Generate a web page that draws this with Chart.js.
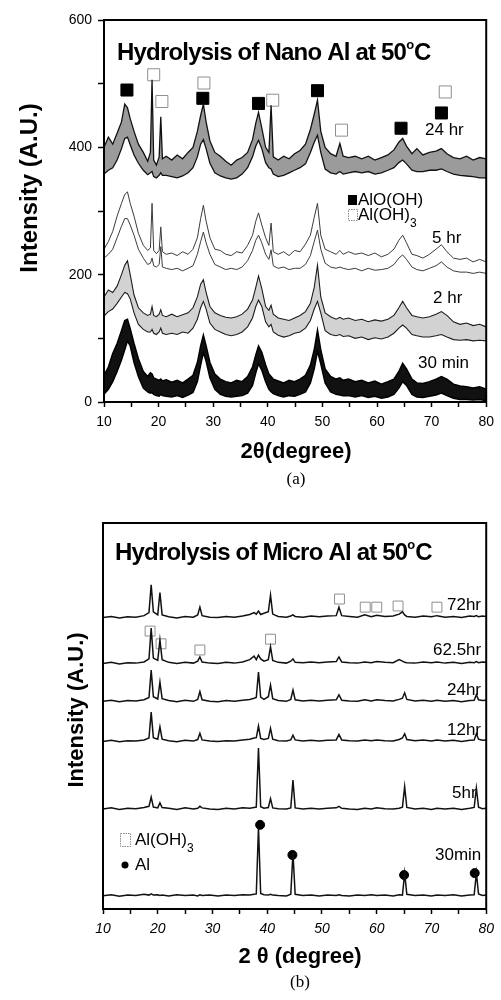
<!DOCTYPE html>
<html>
<head>
<meta charset="utf-8">
<script src="https://cdn.jsdelivr.net/npm/chart.js@4.4.1/dist/chart.umd.min.js"></script>
<style>
  html, body { margin: 0; padding: 0; background: #fff; }
  #wrap { position: relative; width: 501px; height: 1000px; }
  canvas { position: absolute; left: 0; }
  #nano { top: 0; }
  #micro { top: 500px; }
</style>
</head>
<body>
<div id="wrap">
  <canvas id="nano" width="501" height="500"></canvas>
  <canvas id="micro" width="501" height="500"></canvas>
</div>
<script>
// (a) nano Al - 2theta grid shared by all traces, each trace is a band (top / bottom edge)
const nanoTheta = [10,10.8,11.6,12.4,13.2,13.8,14.3,14.8,15.5,16.3,
  17.2,18.0,18.5,18.8,19.1,19.6,20.1,20.4,20.7,21.4,
  22.4,23.4,24.4,25.4,26.3,27.1,27.7,28.2,28.7,29.4,
  30.3,31.3,32.3,33.3,34.3,35.3,36.3,37.2,37.8,38.3,
  38.9,39.6,40.2,40.6,41.0,41.9,42.9,43.9,44.9,45.9,
  46.9,47.8,48.5,49.1,49.7,50.5,51.5,52.5,53.2,53.8,
  54.8,56.0,57.2,58.4,59.6,60.8,62.0,63.1,64.0,64.7,
  65.4,66.4,67.3,68.4,69.6,70.8,71.8,72.8,74.0,75.2,
  76.4,77.6,78.8,80];

const nano24Top = [400,416,405,422,440,468,462,445,425,405,
  392,378,392,506,380,372,385,448,382,386,
  380,388,382,392,400,425,450,468,440,410,
  392,386,378,372,380,384,392,412,438,455,
  430,400,392,466,385,380,386,382,390,395,
  405,428,452,474,425,400,390,386,406,386,
  384,386,382,386,380,384,388,396,408,414,
  402,390,398,388,392,394,398,390,384,382,
  386,380,384,382];
const nano24Bottom = [358,364,368,380,398,414,416,404,388,375,
  364,357,360,362,354,352,356,360,356,356,
  354,352,355,360,368,385,405,412,398,375,
  360,355,352,350,352,358,368,385,402,411,
  398,376,368,366,358,354,356,360,364,368,
  374,392,408,419,392,366,360,358,362,358,
  360,362,360,362,358,360,364,368,376,380,
  374,364,362,362,364,364,366,362,358,356,
  355,354,352,352];

const nano5Top = [240,252,268,292,312,326,330,312,292,265,
  246,238,242,312,238,233,238,275,236,232,
  234,230,236,232,240,258,288,309,284,258,
  240,238,232,230,236,234,246,262,284,297,
  278,258,246,281,236,232,236,230,238,236,
  248,262,290,312,262,240,236,232,238,232,
  236,232,234,230,234,228,232,240,254,262,
  250,232,230,226,232,240,247,236,226,224,
  226,220,224,220];
const nano5Bottom = [226,232,240,258,276,288,288,278,262,240,
  226,216,218,226,214,212,216,244,212,210,
  208,210,206,210,214,232,252,267,250,232,
  216,212,208,210,208,212,222,238,254,262,
  250,232,224,239,214,210,212,208,210,210,
  216,230,252,270,240,218,212,210,212,210,
  208,210,206,210,207,208,210,216,226,231,
  224,212,208,206,210,214,220,212,206,204,
  204,202,204,202];

const nano2Top = [165,176,172,182,200,215,222,200,168,148,
  140,136,138,150,136,134,138,145,136,134,
  138,134,137,140,148,165,185,192,172,150,
  140,136,133,132,134,138,146,160,180,198,
  178,150,144,152,138,132,130,128,132,136,
  142,155,180,215,165,140,134,130,133,130,
  132,128,130,126,129,127,130,136,148,158,
  148,136,134,132,134,138,142,136,126,122,
  124,120,122,118];
const nano2Bottom = [135,142,146,155,165,172,170,162,140,122,
  114,110,110,114,108,106,110,116,108,106,
  108,106,110,108,116,130,148,158,146,124,
  114,110,106,104,106,110,118,132,150,160,
  150,126,118,122,110,105,102,104,108,110,
  116,128,146,158,140,112,106,104,106,103,
  104,100,102,98,101,99,102,108,116,121,
  116,106,104,102,102,104,106,102,98,97,
  98,96,97,96];

const nano30Top = [42,55,76,92,112,128,130,115,92,68,
  48,40,46,44,38,36,34,36,33,35,
  31,34,30,36,42,62,88,105,88,62,
  44,36,32,30,34,32,40,55,74,88,
  78,58,44,40,36,33,30,34,32,36,
  42,58,82,113,82,52,40,36,38,34,
  36,32,34,30,33,28,32,36,48,61,
  52,36,30,29,32,36,40,36,28,25,
  24,22,24,20];
const nano30Bottom = [12,20,32,48,66,82,96,88,62,40,
  22,16,14,15,12,10,9,12,10,9,
  8,10,7,11,15,32,58,78,64,38,
  20,12,9,8,9,10,14,26,46,60,
  50,32,20,16,13,10,8,10,9,12,
  16,30,52,80,60,30,16,12,11,10,
  10,8,10,7,9,6,8,12,22,32,
  26,12,8,7,9,11,14,10,6,4,
  4,3,4,2];

const aloohX = [14.2, 28.1, 38.3, 49.1, 64.4, 71.8];
const aloohY = [490, 477, 469, 489, 430, 454];
const nanoGibbsX = [19.1, 20.6, 28.3, 40.9, 53.5, 72.5];
const nanoGibbsY = [514, 472, 501, 474, 427, 487];

const nanoYTicks = [0, 200, 400, 600];
const xTicks = [10, 20, 30, 40, 50, 60, 70, 80];

// (b) micro Al
const microTheta = [10,11.5,13,14.5,16,17.5,18.4,18.8,19.2,20.0,
  20.4,20.8,22,23.5,25,26.5,27.3,27.7,28.1,29.5,
  31,32.5,34,35.5,36.8,37.6,38.0,38.4,38.8,39.4,
  40.2,40.6,41.0,42,43.5,44.3,44.7,45.1,46.5,48,
  49.5,51,52.6,53.1,53.6,55,56.5,57.8,59,60,
  61.5,63,64.1,64.7,65.1,65.5,67,68.5,70,71,
  72.5,74,75.5,77,77.8,78.2,78.6,79.3,80];

const micro72 = [75.5,75.8,75.4,75.7,75.6,76.0,76.8,84.0,77.0,76.2,
  82.0,76.2,75.7,75.4,75.8,75.6,76.2,78.2,76.0,75.6,
  75.5,75.8,75.6,75.9,76.3,76.8,76.4,77.2,76.3,76.6,
  77.0,81.3,76.4,75.8,75.6,75.9,76.2,75.8,75.6,75.9,
  75.7,75.9,76.0,78.2,76.0,75.8,75.6,76.2,75.7,76.1,
  75.8,75.9,76.4,77.0,76.2,75.8,75.6,75.9,75.7,76.0,
  75.6,75.8,75.5,75.9,75.8,76.0,75.7,75.9,75.8];
const micro62 = [63.6,63.9,63.5,63.8,63.7,64.0,64.8,72.8,65.0,64.4,
  69.7,64.6,63.9,63.6,63.9,63.7,64.2,65.3,64.0,63.7,
  63.6,63.9,63.7,64.0,64.6,65.5,64.6,65.8,64.8,64.2,
  64.6,67.9,64.4,63.9,63.7,64.2,64.8,63.9,63.8,64.0,
  63.8,64.0,64.1,65.3,64.0,63.8,63.7,64.0,63.8,64.1,
  63.9,63.8,64.6,64.2,63.9,63.8,63.7,64.0,63.8,64.0,
  63.7,63.9,63.6,63.9,63.8,64.1,63.8,64.0,63.9];
const micro24 = [53.8,54.1,53.7,54.0,53.9,54.2,54.8,61.9,55.0,54.4,
  58.8,54.5,54.0,53.7,54.1,53.8,54.3,56.3,54.2,53.8,
  53.7,54.0,53.8,54.1,54.3,54.6,54.8,61.4,54.9,54.3,
  55.0,58.0,54.5,54.0,53.8,54.3,56.7,54.2,53.9,54.1,
  53.9,54.1,54.2,55.5,54.1,53.9,53.8,54.2,53.9,54.2,
  54.0,53.9,54.3,54.6,56.0,54.3,53.9,54.1,53.8,54.1,
  53.8,54.0,53.7,54.0,54.1,55.5,54.2,54.0,54.1];
const micro12 = [43.4,43.7,43.3,43.6,43.5,43.8,44.3,51.0,44.4,44.0,
  47.2,44.0,43.6,43.3,43.7,43.5,43.9,45.5,43.8,43.5,
  43.4,43.6,43.5,43.8,44.0,44.3,44.4,47.4,44.2,43.9,
  44.2,46.8,44.0,43.6,43.5,43.8,45.0,43.8,43.5,43.7,
  43.5,43.7,43.8,45.2,43.8,43.6,43.5,43.8,43.6,43.8,
  43.6,43.5,43.9,44.3,45.4,43.9,43.6,43.8,43.5,43.8,
  43.5,43.7,43.4,43.7,43.8,45.4,44.0,43.7,43.8];
const micro5 = [25.9,26.2,25.8,26.1,26.0,26.3,26.6,29.0,26.4,26.2,
  27.5,26.3,26.1,25.8,26.2,25.9,26.1,26.6,26.2,25.9,
  25.8,26.1,25.9,26.2,26.1,26.3,26.4,41.7,26.5,26.1,
  26.3,28.6,26.2,26.0,25.9,26.2,33.4,26.2,25.9,26.1,
  25.9,26.1,26.2,26.6,26.1,25.9,25.8,26.1,25.9,26.2,
  26.0,25.9,26.1,26.4,31.7,26.3,25.9,26.1,25.8,26.1,
  25.9,26.1,25.8,26.1,26.3,31.3,26.4,26.0,26.1];
const micro30 = [3.4,3.7,3.3,3.6,3.5,3.8,3.6,3.9,3.6,3.7,
  3.5,3.6,3.4,3.7,3.5,3.6,3.4,3.7,3.5,3.6,
  3.4,3.6,3.5,3.7,3.6,3.8,3.9,21.2,4.0,3.7,
  3.6,3.8,3.6,3.5,3.4,3.8,14.5,3.8,3.5,3.6,
  3.4,3.6,3.5,3.7,3.5,3.4,3.6,3.5,3.7,3.5,
  3.6,3.4,3.7,3.6,9.3,3.8,3.5,3.6,3.4,3.6,
  3.5,3.7,3.4,3.6,3.7,9.3,3.9,3.5,3.6];

const microGibbsX = [53.2, 57.9, 60.0, 63.9, 71.0, 18.6, 20.6, 27.7, 40.6];
const microGibbsY = [80.3, 78.2, 78.2, 78.5, 78.2, 72.0, 68.7, 67.1, 69.9];
const alX = [38.7, 44.6, 65.0, 77.9];
const alY = [21.8, 14.0, 8.8, 9.3];

const SANS = '"Liberation Sans", Arial, sans-serif';
const SERIF = '"Liberation Serif", "Times New Roman", serif';
Chart.defaults.font.family = SANS;
Chart.defaults.color = '#000';

function pts(xs, ys) {
  return xs.map((x, i) => ({ x: x, y: ys[i] }));
}

function band(top, bottom, edge, fillColor, width) {
  return [
    { data: pts(nanoTheta, top), borderColor: edge, borderWidth: width, pointRadius: 0, fill: false },
    { data: pts(nanoTheta, bottom), borderColor: edge, borderWidth: width, pointRadius: 0,
      fill: fillColor ? '-1' : false, backgroundColor: fillColor || 'transparent' }
  ];
}

// draw a run of text pieces (for sub/superscripts)
function drawParts(ctx, parts, x, y) {
  parts.forEach(p => {
    ctx.font = p.font;
    ctx.letterSpacing = p.ls || '0px';
    ctx.fillText(p.text, x, y + (p.dy || 0));
    x += ctx.measureText(p.text).width;
  });
  ctx.letterSpacing = '0px';
}

const framePlugin = {
  id: 'frame',
  afterDatasetsDraw(chart) {
    const { ctx, chartArea: a } = chart;
    ctx.save();
    ctx.strokeStyle = '#000';
    ctx.lineWidth = 2;
    ctx.strokeRect(a.left, a.top, a.right - a.left, a.bottom - a.top);
    ctx.restore();
  }
};

function notesPlugin(cfg) {
  return {
    id: 'notes',
    afterDraw(chart) {
      const ctx = chart.ctx;
      ctx.save();
      ctx.fillStyle = '#000';
      ctx.textBaseline = 'alphabetic';
      ctx.textAlign = 'left';
      cfg.notes.forEach(n => drawParts(ctx, n.parts, n.x, n.y));
      (cfg.keys || []).forEach(k => {
        if (k.kind === 'fill') { ctx.fillStyle = '#000'; ctx.fillRect(k.x, k.y, k.w, k.h); }
        else if (k.kind === 'open') {
          ctx.strokeStyle = '#8a8a8a'; ctx.lineWidth = 1;
          ctx.setLineDash([1.5, 1]);
          ctx.strokeRect(k.x + 0.5, k.y + 0.5, k.w, k.h);
          ctx.setLineDash([]);
        } else if (k.kind === 'dot') {
          ctx.fillStyle = '#000'; ctx.beginPath(); ctx.arc(k.x, k.y, k.r, 0, Math.PI * 2); ctx.fill();
        }
        ctx.fillStyle = '#000';
      });
      // rotated y title
      ctx.translate(cfg.yTitle.x, cfg.yTitle.y);
      ctx.rotate(-Math.PI / 2);
      ctx.textAlign = 'center';
      ctx.textBaseline = 'middle';
      ctx.font = cfg.yTitle.font;
      ctx.fillText(cfg.yTitle.text, 0, 0);
      ctx.restore();
      // x title and caption
      ctx.save();
      ctx.textAlign = 'center';
      ctx.fillStyle = '#000';
      ctx.font = cfg.xTitle.font;
      ctx.fillText(cfg.xTitle.text, cfg.xTitle.x, cfg.xTitle.y);
      ctx.font = cfg.caption.font;
      ctx.fillText(cfg.caption.text, cfg.caption.x, cfg.caption.y);
      ctx.restore();
    }
  };
}

function xScale(italic, width) {
  return {
    type: 'linear', min: 10, max: 80,
    afterFit: s => { s.height = width; },
    ticks: {
      stepSize: 5, autoSkip: false, maxRotation: 0, padding: 7,
      font: { size: 14, style: italic ? 'italic' : 'normal' },
      callback: v => (xTicks.includes(v) ? String(v) : '')
    },
    grid: { drawOnChartArea: false, drawTicks: true, tickLength: 5, tickColor: '#000', tickWidth: 1.5 },
    border: { display: true, color: '#000', width: 2 }
  };
}

const bold24 = 'bold 24px ' + SANS;
const sup = 'bold 13px ' + SANS;
const lab = '17px ' + SANS;
const subF = '12px ' + SANS;

// ---------- chart (a)
new Chart(document.getElementById('nano'), {
  type: 'line',
  data: {
    datasets: [
      ...band(nano24Top, nano24Bottom, '#111', '#9b9b9b', 1.3),
      ...band(nano5Top, nano5Bottom, '#3c3c3c', null, 1),
      ...band(nano2Top, nano2Bottom, '#1c1c1c', '#d2d2d2', 1.1),
      ...band(nano30Top, nano30Bottom, '#000', '#111', 1.5),
      { data: pts(aloohX, aloohY), showLine: false, pointStyle: 'rect', pointRadius: 8.5,
        pointBackgroundColor: '#000', pointBorderColor: '#000' },
      { data: pts(nanoGibbsX, nanoGibbsY), showLine: false, pointStyle: 'rect', pointRadius: 8.5,
        pointBackgroundColor: '#fff', pointBorderColor: '#8f8f8f', pointBorderWidth: 1 }
    ]
  },
  options: {
    responsive: false, animation: false, devicePixelRatio: 1,
    layout: { padding: { top: 20, right: 14, left: 0, bottom: 0 } },
    elements: { line: { tension: 0 } },
    plugins: { legend: { display: false }, tooltip: { enabled: false } },
    scales: {
      x: xScale(false, 98),
      y: {
        type: 'linear', min: 0, max: 600,
        afterFit: s => { s.width = 104; },
        ticks: { stepSize: 100, padding: 6, font: { size: 14 },
          callback: v => (nanoYTicks.includes(v) ? String(v) : '') },
        grid: { drawOnChartArea: false, tickLength: 6, tickColor: '#000', tickWidth: 1.5 },
        border: { display: true, color: '#000', width: 2 }
      }
    }
  },
  plugins: [framePlugin, notesPlugin({
    notes: [
      { x: 117, y: 60, parts: [{ text: 'Hydrolysis of Nano Al at 50', font: bold24, ls: '-0.8px' },
        { text: 'o', font: sup, dy: -11 }, { text: 'C', font: bold24 }] },
      { x: 425, y: 135, parts: [{ text: '24 hr', font: lab }] },
      { x: 432, y: 243, parts: [{ text: '5 hr', font: lab }] },
      { x: 433, y: 303, parts: [{ text: '2 hr', font: lab }] },
      { x: 418, y: 368, parts: [{ text: '30 min', font: lab }] },
      { x: 358, y: 205, parts: [{ text: 'AlO(OH)', font: lab }] },
      { x: 358, y: 220, parts: [{ text: 'Al(OH)', font: lab }, { text: '3', font: subF, dy: 7 }] }
    ],
    keys: [
      { kind: 'fill', x: 348, y: 195, w: 9, h: 10 },
      { kind: 'open', x: 348, y: 209, w: 9, h: 11 }
    ],
    yTitle: { text: 'Intensity (A.U.)', x: 30, y: 188, font: bold24 },
    xTitle: { text: '2\u03b8(degree)', x: 296, y: 458, font: 'bold 22px ' + SANS },
    caption: { text: '(a)', x: 296, y: 484, font: '17px ' + SERIF }
  })]
});

// ---------- chart (b)
const microTraces = [micro72, micro62, micro24, micro12, micro5, micro30];
new Chart(document.getElementById('micro'), {
  type: 'line',
  data: {
    datasets: [
      ...microTraces.map(t => ({ data: pts(microTheta, t), borderColor: '#111', borderWidth: 1.5,
        pointRadius: 0, fill: false })),
      { data: pts(microGibbsX, microGibbsY), showLine: false, pointStyle: 'rect', pointRadius: 7,
        pointBackgroundColor: 'rgba(255,255,255,0)', pointBorderColor: '#8f8f8f', pointBorderWidth: 1 },
      { data: pts(alX, alY), showLine: false, pointStyle: 'circle', pointRadius: 4.5,
        pointBackgroundColor: '#000', pointBorderColor: '#000' }
    ]
  },
  options: {
    responsive: false, animation: false, devicePixelRatio: 1,
    layout: { padding: { top: 23, right: 13, left: 0, bottom: 0 } },
    elements: { line: { tension: 0 } },
    plugins: { legend: { display: false }, tooltip: { enabled: false } },
    scales: {
      x: xScale(true, 91),
      y: {
        type: 'linear', min: 0, max: 100,
        afterFit: s => { s.width = 103; },
        ticks: { display: false },
        grid: { drawOnChartArea: false, drawTicks: false },
        border: { display: true, color: '#000', width: 2 }
      }
    }
  },
  plugins: [framePlugin, notesPlugin({
    notes: [
      { x: 115, y: 60, parts: [{ text: 'Hydrolysis of Micro Al at 50', font: bold24, ls: '-0.8px' },
        { text: 'o', font: sup, dy: -11 }, { text: 'C', font: bold24 }] },
      { x: 447, y: 110, parts: [{ text: '72hr', font: lab }] },
      { x: 433, y: 155, parts: [{ text: '62.5hr', font: lab }] },
      { x: 447, y: 195, parts: [{ text: '24hr', font: lab }] },
      { x: 447, y: 235, parts: [{ text: '12hr', font: lab }] },
      { x: 452, y: 298, parts: [{ text: '5hr', font: lab }] },
      { x: 435, y: 360, parts: [{ text: '30min', font: lab }] },
      { x: 135, y: 345, parts: [{ text: 'Al(OH)', font: lab }, { text: '3', font: subF, dy: 7 }] },
      { x: 135, y: 370, parts: [{ text: 'Al', font: lab }] }
    ],
    keys: [
      { kind: 'open', x: 120, y: 333, w: 10, h: 13 },
      { kind: 'dot', x: 125, y: 365, r: 3.5 }
    ],
    yTitle: { text: 'Intensity (A.U.)', x: 77, y: 210, font: 'bold 22px ' + SANS },
    xTitle: { text: '2 \u03b8 (degree)', x: 300, y: 463, font: 'bold 22px ' + SANS },
    caption: { text: '(b)', x: 300, y: 487, font: '17px ' + SERIF }
  })]
});
</script>
</body>
</html>
